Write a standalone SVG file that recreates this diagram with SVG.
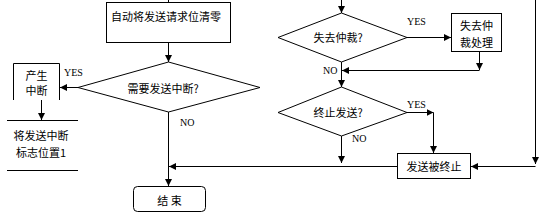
<svg xmlns="http://www.w3.org/2000/svg" width="541" height="219" viewBox="0 0 541 219">
<defs>
<marker id="ah" viewBox="0 0 8 8" refX="8" refY="4" markerWidth="7" markerHeight="7" markerUnits="userSpaceOnUse" orient="auto">
<path d="M0,0 L8,4 L0,8 z" fill="#000"/>
</marker>
</defs>
<style>
.s{fill:#fff;stroke:#000;stroke-width:1}
.ln{fill:none;stroke:#000;stroke-width:1}
.c{stroke:#000;stroke-width:1;fill:none;marker-end:url(#ah)}
.t{font-family:"Noto Sans CJK SC","Noto Sans CJK JP",sans-serif;font-size:11px;fill:#000;text-anchor:middle;dominant-baseline:central}
.l{font-family:"Liberation Serif",serif;font-size:10px;fill:#000;dominant-baseline:central}
</style>
<rect width="541" height="219" fill="#fff"/>
<g id="connectors">
<line class="ln" x1="168.5" y1="0" x2="168.5" y2="3"/>
<line class="c" x1="168.5" y1="42" x2="168.5" y2="62"/>
<line class="c" x1="78" y1="87.5" x2="60" y2="87.5"/>
<line class="c" x1="41.5" y1="100" x2="41.5" y2="120"/>
<line class="c" x1="168.5" y1="112" x2="168.5" y2="186"/>
<line class="c" x1="397" y1="166.5" x2="169" y2="166.5"/>
<line class="c" x1="341.5" y1="0" x2="341.5" y2="13"/>
<line class="c" x1="407" y1="37.5" x2="451" y2="37.5"/>
<line class="c" x1="479.5" y1="51" x2="479.5" y2="70"/>
<line class="c" x1="479.5" y1="70.5" x2="342" y2="70.5"/>
<line class="c" x1="341.5" y1="62" x2="341.5" y2="87"/>
<line class="c" x1="407" y1="112.5" x2="433.5" y2="112.5"/>
<line class="c" x1="433.5" y1="112.5" x2="433.5" y2="153"/>
<line class="c" x1="341.5" y1="136" x2="341.5" y2="163"/>
<line class="c" x1="535.5" y1="0" x2="535.5" y2="164"/>
<line class="c" x1="535.5" y1="166.5" x2="471" y2="166.5"/>
<text class="l" x="64" y="72">YES</text>
<text class="l" x="180" y="122">NO</text>
<text class="l" x="407" y="21">YES</text>
<text class="l" x="323" y="70.5">NO</text>
<text class="l" x="407" y="104">YES</text>
<text class="l" x="352" y="138">NO</text>
</g>
<g id="n1">
<rect class="s" x="106.5" y="2.5" width="124" height="40"/>
<text class="t" x="166" y="16">自动将发送请求位清零</text>
</g>
<g id="n2">
<polygon class="s" points="168.5,62 260,87.5 168.5,112 78,87.5"/>
<text class="t" x="163" y="87.5">需要发送中断?</text>
</g>
<g id="n3">
<polyline class="ln" points="13.5,100 13.5,63.5 59.5,63.5 59.5,100"/>
<text class="t" x="36.5" y="75">产生</text>
<text class="t" x="36.5" y="90">中断</text>
</g>
<g id="n4">
<line class="ln" x1="7" y1="120.5" x2="78" y2="120.5"/>
<line class="ln" x1="7" y1="170.5" x2="78" y2="170.5"/>
<text class="t" x="41" y="135">将发送中断</text>
<text class="t" x="41" y="152">标志位置1</text>
</g>
<g id="n5">
<rect class="s" x="133.5" y="186.5" width="72" height="25" rx="4"/>
<text class="t" x="169.5" y="199.5">结 束</text>
</g>
<g id="n6">
<polygon class="s" points="341.5,13 407,37.5 341.5,62 278,37.5"/>
<text class="t" x="338" y="37">失去仲裁?</text>
</g>
<g id="n7">
<rect class="s" x="451.5" y="13.5" width="50" height="38"/>
<text class="t" x="476.5" y="25">失去仲</text>
<text class="t" x="476.5" y="42">裁处理</text>
</g>
<g id="n8">
<polygon class="s" points="341.5,87 407,112.5 341.5,136 278,112.5"/>
<text class="t" x="338" y="112">终止发送?</text>
</g>
<g id="n9">
<rect class="s" x="397.5" y="153.5" width="73" height="25"/>
<text class="t" x="434" y="166">发送被终止</text>
</g>
</svg>
